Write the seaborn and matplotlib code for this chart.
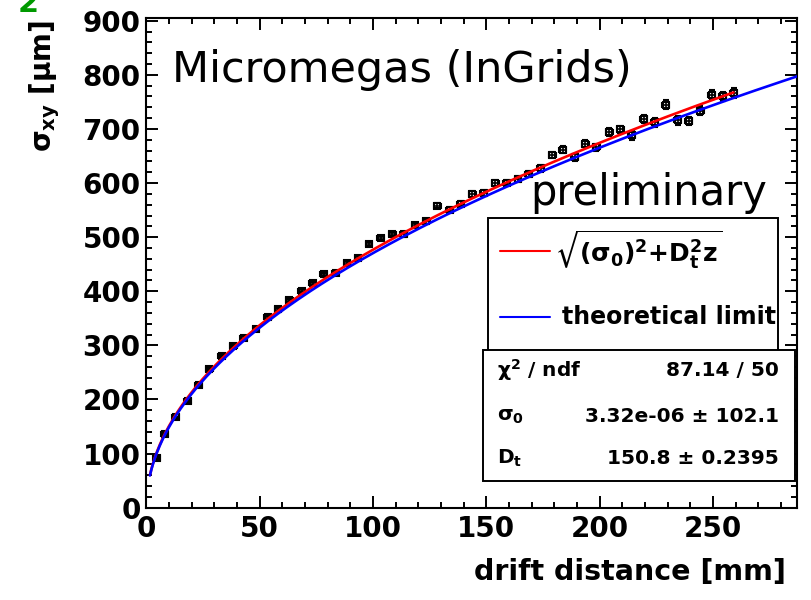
import matplotlib
matplotlib.use("Agg")
import numpy as np
import pandas as pd
import seaborn as sns
import matplotlib.pyplot as plt
from matplotlib.patches import Rectangle
from matplotlib.lines import Line2D
from matplotlib.ticker import MultipleLocator

# ---------------- data ----------------
drift_mm = [4.6, 8.2, 12.9, 18.2, 23.1, 27.8, 33.2, 38.3, 43.0, 48.4,
            53.5, 58.1, 63.0, 68.6, 73.4, 78.3, 83.6, 88.5, 93.4, 98.2,
            103.4, 108.5, 113.5, 118.5, 123.5, 128.3, 133.8, 138.6, 143.8, 148.8,
            153.9, 159.0, 163.9, 168.7, 174.0, 179.0, 183.7, 188.9, 193.7, 198.5,
            204.3, 209.1, 214.1, 219.3, 224.2, 229.1, 234.4, 239.2, 244.4, 249.3,
            254.2, 259.0]
sigma_xy = [92, 136, 167, 197, 227, 256, 280, 299, 314, 330,
            352, 367, 383, 401, 415, 431, 434, 452, 462, 487,
            498, 506, 505, 522, 529, 558, 551, 562, 580, 582,
            600, 601, 607, 617, 627, 652, 662, 648, 673, 666,
            694, 699, 688, 718, 712, 745, 716, 715, 734, 763,
            760, 766]
sigma_err = [1.5, 1.5, 1.5, 1.5, 2, 2, 2, 2, 2.5, 2.5,
             3, 3, 3, 3, 3, 3.5, 3.5, 3.5, 3.5, 4,
             4, 4, 4, 4.5, 4.5, 4.5, 5, 5, 5, 5,
             5, 5.5, 5.5, 5.5, 6, 6, 6, 6.5, 6.5, 7,
             7, 7, 7.5, 7.5, 7.5, 8, 8, 8, 8.5, 8.5,
             9, 9]
drift_err = [1.5] * len(drift_mm)

# fit results shown in the stats box / theoretical diffusion
SIGMA0_FIT = 3.32e-06      # um
DT_FIT = 150.8             # um / sqrt(cm)
DT_THEORY = 148.8          # um / sqrt(cm)
FIT_RANGE = (1.6, 259.0)
THEORY_RANGE = (1.6, 287.0)

x_ticks = [0, 50, 100, 150, 200, 250]
y_ticks = [0, 100, 200, 300, 400, 500, 600, 700, 800, 900]

# ---------------- style ----------------
sns.set_theme(style="ticks")
plt.rcParams["font.family"] = ["DejaVu Sans"]
plt.rcParams["font.weight"] = "bold"
plt.rcParams["mathtext.fontset"] = "dejavusans"
plt.rcParams["mathtext.default"] = "bf"
plt.rcParams["text.color"] = "black"
plt.rcParams["axes.labelcolor"] = "black"
plt.rcParams["axes.edgecolor"] = "black"
plt.rcParams["xtick.color"] = "black"
plt.rcParams["ytick.color"] = "black"
plt.rcParams["xtick.labelcolor"] = "black"
plt.rcParams["ytick.labelcolor"] = "black"

W, H = 811, 600
fig = plt.figure(figsize=(W / 100, H / 100), dpi=100)
fig.patch.set_facecolor("white")


def fx(px):
    return px / W


def fy(py):
    return 1 - py / H


ax_l, ax_r, ax_t, ax_b = 146.3, 797.0, 18.3, 507.7
ax = fig.add_axes([fx(ax_l), fy(ax_b), (ax_r - ax_l) / W, (ax_b - ax_t) / H])

df = pd.DataFrame({"x": drift_mm, "y": sigma_xy, "ex": drift_err, "ey": sigma_err})

ax.errorbar(df["x"], df["y"], xerr=df["ex"], yerr=df["ey"], fmt="s",
            ms=4.3, mfc="none", mec="black", mew=1.5, ecolor="black",
            elinewidth=1.2, capsize=2.3, capthick=1.2, zorder=3)

xf = np.linspace(FIT_RANGE[0], FIT_RANGE[1], 400)
yf = np.sqrt(SIGMA0_FIT ** 2 + DT_FIT ** 2 * xf / 10.0)
xt = np.linspace(THEORY_RANGE[0], THEORY_RANGE[1], 400)
yt = np.sqrt(DT_THEORY ** 2 * xt / 10.0)
sns.lineplot(x=xf, y=yf, color="#ff0000", lw=1.9, ax=ax, sort=False,
             estimator=None, zorder=5, legend=False)
sns.lineplot(x=xt, y=yt, color="#0000ff", lw=1.9, ax=ax, sort=False,
             estimator=None, zorder=6, legend=False)

ax.set_xlim(0, 287)
ax.set_ylim(0, 904.5)
ax.set_xticks(x_ticks)
ax.set_yticks(y_ticks)
ax.xaxis.set_minor_locator(MultipleLocator(10))
ax.yaxis.set_minor_locator(MultipleLocator(20))
ax.tick_params(which="both", direction="in", top=True, right=True, width=1.4,
               colors="black")
ax.tick_params(which="major", length=8.6, labelsize=20)
ax.tick_params(which="minor", length=4.3)
ax.tick_params(axis="x", pad=5)
ax.tick_params(axis="y", pad=4)
for s in ax.spines.values():
    s.set_linewidth(1.5)
    s.set_color("black")
ax.set_xlabel("")
ax.set_ylabel("")
for lab in ax.get_xticklabels() + ax.get_yticklabels():
    lab.set_fontweight("bold")
    lab.set_color("black")

# axis titles
fig.text(fx(786), fy(572), "drift distance [mm]", ha="right", va="center",
         fontsize=20.5, fontweight="bold", color="black")
fig.text(fx(45), fy(20), "σ$_{xy}$ [μm]", rotation=90, ha="center", va="top",
         fontsize=20, fontweight="bold", color="black")
fig.text(fx(28), fy(12.5), "2", ha="center", va="baseline", fontsize=22,
         color="#009900", fontweight="bold")

# annotations
fig.text(fx(172), fy(82), "Micromegas (InGrids)", ha="left", va="baseline",
         fontsize=31, fontweight="normal", color="black", zorder=8)
fig.text(fx(530), fy(205), "preliminary", ha="left", va="baseline",
         fontsize=30, fontweight="normal", color="black", zorder=8)

# legend box
leg = Rectangle((fx(488), fy(352)), (778 - 488) / W, (352 - 218) / H,
                transform=fig.transFigure, facecolor="white", edgecolor="black",
                lw=1.4, zorder=10)
fig.patches.append(leg)
fig.add_artist(Line2D([fx(500), fx(550)], [fy(250.7), fy(250.7)],
                      transform=fig.transFigure, color="#ff0000", lw=1.5, zorder=11))
fig.add_artist(Line2D([fx(500), fx(550)], [fy(316.7), fy(316.7)],
                      transform=fig.transFigure, color="#0000ff", lw=1.5, zorder=11))
fig.text(fx(555), fy(250), r"$\sqrt{(\sigma_0)^2{+}D_t^2z}$", ha="left", va="center",
         fontsize=18, color="black", zorder=12)
fig.text(fx(561.7), fy(317), "theoretical limit", ha="left", va="center",
         fontsize=17, fontweight="bold", color="black", zorder=12)

# stats box
st = Rectangle((fx(483), fy(481)), (795 - 483) / W, (481 - 350) / H,
               transform=fig.transFigure, facecolor="white", edgecolor="black",
               lw=1.4, zorder=13)
fig.patches.append(st)
rows = [(370, r"$\chi^2$ / ndf", "87.14 / 50"),
        (416.7, r"$\sigma_0$", "3.32e-06 ± 102.1"),
        (458.3, r"$D_t$", "150.8 ± 0.2395")]
for yy, lt, rt in rows:
    fig.text(fx(497), fy(yy), lt, ha="left", va="center", fontsize=14.5,
             fontweight="bold", color="black", zorder=14)
    fig.text(fx(779), fy(yy), rt, ha="right", va="center", fontsize=14.5,
             fontweight="bold", color="black", zorder=14)

fig.savefig("out.png", dpi=100, facecolor="white")
